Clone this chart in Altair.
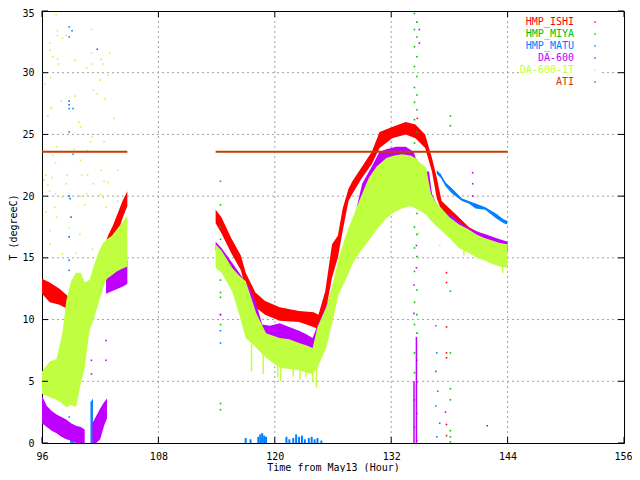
import altair as alt
import pandas as pd

NAMES = ["HMP_ISHI", "HMP_MIYA", "HMP_MATU", "DA-600", "DA-600-1T", "ATI"]
COLORS = ["#ff0000", "#00c000", "#0080ff", "#c000ff", "#c0ff40", "#c04000"]
X_TICKS = [96, 108, 120, 132, 144, 156]
Y_TICKS = [0, 5, 10, 15, 20, 25, 30, 35]

# ---------------- HMP_ISHI (red) bands ----------------
ISHI_A_T = [96.0, 96.8, 97.8, 98.8, 99.5, 100.3, 100.6, 101.0, 101.4, 101.9, 102.3, 102.8, 103.3, 103.8, 104.3, 104.8]
ISHI_A_LO = [12.1, 11.4, 11.2, 10.8, 10.2, 9.2, 9.0, 10.0, 10.7, 12.6, 14.0, 15.2, 16.0, 17.0, 18.2, 19.2]
ISHI_A_HI = [13.3, 13.0, 12.5, 11.8, 11.2, 10.2, 9.8, 11.0, 12.1, 14.2, 15.6, 16.8, 17.6, 18.6, 19.6, 20.4]

ISHI_B_T = [113.9, 114.5, 115.5, 116.5, 117.0, 118.0, 119.0, 120.5, 122.5, 124.0, 124.5, 125.2, 125.9, 126.5,
            127.0, 127.6, 128.0, 129.0, 130.0, 130.8, 132.1, 133.5, 134.5, 135.5, 136.2, 136.7, 137.2, 138.7,
            140.0, 142.0, 144.0]
ISHI_B_LO = [17.8, 17.0, 15.4, 14.0, 12.5, 11.0, 10.4, 9.9, 9.8, 9.4, 9.2, 10.5, 13.4, 15.0,
             17.2, 19.6, 20.2, 21.5, 22.6, 23.9, 24.7, 25.0, 24.7, 23.9, 22.0, 19.8, 18.8, 17.8,
             17.0, 16.2, 15.6]
ISHI_B_HI = [18.9, 18.3, 16.6, 15.2, 13.8, 12.2, 11.5, 11.0, 10.7, 10.6, 10.4, 12.3, 16.1, 16.8,
             19.0, 20.6, 21.2, 22.4, 23.6, 25.2, 25.6, 26.0, 25.8, 25.0, 23.1, 21.5, 19.6, 18.5,
             17.5, 16.6, 16.0]
ISHI_DOT_T = [134.7, 137.7, 137.7, 137.7, 137.7, 137.7, 137.7, 137.7, 98.7]
ISHI_DOT_Y = [26.3, 13.8, 13.0, 9.4, 7.3, 6.9, 1.5, 0.6, 10.4]

# ---------------- HMP_MIYA (green) scattered dots ----------------
MIYA_T = [134.4, 134.65, 134.4, 134.65, 134.4, 134.65, 134.4, 134.65, 134.4, 134.65, 134.4, 134.65, 134.4,
          134.65, 134.4, 134.65, 134.4, 134.65, 134.4, 134.65, 134.4, 134.65, 134.4, 134.65, 134.4, 134.65,
          134.4, 134.65, 134.4, 134.65, 134.4, 134.65, 134.4, 134.65, 134.4, 134.65, 134.4, 134.65,
          114.4, 114.4, 114.4, 114.4, 114.4, 114.4, 114.4, 114.4, 114.4, 114.4, 114.4, 114.4,
          138.1, 138.1, 138.1, 138.1, 138.1, 138.1, 138.1, 138.1, 138.1]
MIYA_Y = [34.8, 34.1, 33.5, 32.9, 32.1, 31.3, 30.5, 29.7, 28.8, 28.2, 27.6, 27.0, 26.2,
          25.2, 24.3, 22.9, 22.1, 20.7, 19.7, 18.6, 17.5, 16.9, 15.8, 15.1, 13.9, 12.4,
          11.4, 10.4, 9.6, 8.9, 7.3, 6.7, 5.7, 4.9, 3.5, 2.4, 1.3, 0.2,
          21.2, 19.3, 17.5, 16.5, 15.1, 13.2, 12.2, 11.8, 10.4, 9.6, 3.2, 2.7,
          26.5, 25.7, 12.3, 7.3, 4.4, 3.5, 1.0, 0.5, 0.1]

# ---------------- HMP_MATU (blue) ----------------
MATU_A_T = [101.0, 101.25]
MATU_A_LO = [0.0, 0.0]
MATU_A_HI = [3.3, 3.6]
MATU_B_T = [136.7, 137.1, 137.6, 138.3, 139.3, 140.0, 140.7, 141.7, 142.8, 143.6, 143.95]
MATU_B_LO = [21.8, 21.5, 20.8, 20.2, 19.6, 19.4, 19.0, 18.9, 18.2, 17.8, 17.7]
MATU_B_HI = [22.1, 21.8, 21.1, 20.6, 19.8, 19.6, 19.4, 19.1, 18.6, 18.1, 18.0]
MATU_SPIKE_T = [117.0, 117.5, 118.3, 118.5, 118.7, 118.9, 119.1, 121.2, 121.5, 121.9, 122.2, 122.5,
                122.8, 123.1, 123.5, 123.8, 124.1, 124.4, 124.8, 99.0, 99.2]
MATU_SPIKE_HI = [0.4, 0.3, 0.5, 0.7, 0.8, 0.6, 0.5, 0.5, 0.3, 0.4, 0.7, 0.5,
                 0.6, 0.3, 0.4, 0.5, 0.3, 0.4, 0.2, 1.3, 0.8]
MATU_DOT_T = [98.8, 99.1, 98.8, 98.8, 98.8, 98.8, 99.2, 98.8, 99.2, 98.8, 98.9, 99.0, 98.8, 98.8, 98.8,
              98.8, 98.8, 114.4, 114.4, 136.6, 136.7, 136.6, 136.8, 136.6, 137.0, 136.7]
MATU_DOT_Y = [33.7, 33.4, 32.9, 27.7, 27.4, 27.1, 27.1, 25.2, 23.4, 20.0, 19.8, 18.3, 16.7, 14.8, 14.0,
              11.5, 2.1, 9.1, 8.1, 9.5, 7.3, 5.8, 4.2, 3.0, 1.6, 0.5]

# ---------------- DA-600 (purple) ----------------
DA_A1_T = [96.0, 96.5, 97.0, 97.5, 98.0, 98.5, 99.0, 99.5, 100.0, 100.4]
DA_A1_LO = [1.6, 1.3, 1.0, 0.8, 0.5, 0.3, 0.2, 0.0, 0.0, 0.0]
DA_A1_HI = [3.8, 3.0, 2.6, 2.3, 2.1, 1.9, 1.6, 1.4, 1.3, 1.1]
DA_A2_T = [101.2, 101.6, 102.0, 102.4, 102.7]
DA_A2_LO = [0.0, 0.0, 0.3, 1.4, 2.0]
DA_A2_HI = [1.6, 2.2, 2.8, 3.3, 3.6]
DA_A3_T = [102.6, 103.2, 103.8, 104.4, 104.8]
DA_A3_LO = [12.1, 12.3, 12.5, 12.7, 12.9]
DA_A3_HI = [14.0, 14.2, 14.4, 14.6, 14.8]
DA_B_T = [113.9, 114.5, 115.6, 116.5, 117.4, 118.0, 118.7, 119.5, 120.5, 121.5, 122.5, 123.3, 123.9,
          124.6, 125.3, 125.9, 126.9, 128.2, 129.0, 130.0, 130.8, 131.5, 132.5, 133.5, 134.3, 134.9,
          135.5, 135.9, 136.2, 136.9, 137.5, 138.3, 139.2, 140.0, 141.0, 141.8, 142.8, 143.6, 144.0]
DA_B_LO = [15.6, 15.0, 13.9, 12.8, 11.6, 10.2, 8.5, 8.3, 8.3, 8.0, 7.7, 7.4, 7.3,
           8.3, 9.6, 11.0, 13.7, 17.2, 19.6, 21.0, 21.5, 22.2, 22.6, 22.7, 22.3, 21.2,
           20.6, 20.8, 19.6, 18.5, 18.0, 17.4, 17.0, 16.8, 16.5, 16.2, 15.9, 15.6, 15.5]
DA_B_HI = [16.3, 15.8, 14.6, 13.6, 12.6, 11.5, 9.6, 9.5, 9.7, 9.4, 9.1, 8.8, 8.5,
           9.9, 11.2, 12.3, 15.3, 18.2, 21.0, 22.4, 23.6, 23.8, 24.0, 24.0, 23.6, 22.3,
           22.0, 22.0, 20.2, 19.0, 18.7, 18.4, 17.8, 17.4, 17.1, 16.9, 16.6, 16.4, 16.3]
DA_SPIKE_T = [134.35, 134.6]
DA_SPIKE_HI = [5.0, 8.6]
DA_DOT_T = [101.7, 101.1, 101.1, 102.6, 102.6, 134.35, 134.35, 134.6, 134.6, 134.9, 134.9, 140.4, 140.4,
            140.4, 137.6, 114.4, 141.9]
DA_DOT_Y = [31.9, 6.7, 5.6, 8.3, 6.7, 10.5, 12.8, 14.2, 16.0, 33.5, 32.4, 21.9, 21.0, 20.0, 2.5, 10.4, 1.4]

# ---------------- DA-600-1T (yellow-green) ----------------
T1_A_T = [96.0, 96.8, 97.5, 98.1, 98.5, 99.0, 99.5, 100.0, 100.4, 100.9, 101.4, 101.9, 102.3, 102.7,
          103.2, 103.7, 104.2, 104.8]
T1_A_LO = [4.0, 3.7, 3.5, 3.2, 2.9, 3.1, 2.9, 4.8, 6.1, 9.1, 10.2, 11.5, 12.6, 13.3, 13.6, 13.9, 14.1, 14.3]
T1_A_HI = [5.8, 6.6, 6.8, 8.9, 11.5, 13.1, 13.8, 13.8, 13.0, 13.2, 14.5, 15.6, 16.2, 16.5, 16.8, 17.3,
           17.8, 18.4]
T1_B_T = [113.9, 114.5, 115.6, 116.3, 117.0, 118.1, 119.1, 120.5, 121.5, 122.5, 123.3, 123.9, 124.4,
          125.3, 126.0, 126.6, 127.3, 128.0, 128.8, 129.7, 130.5, 131.5, 132.3, 133.1, 134.0, 134.5,
          135.0, 135.6, 136.1, 136.6, 137.2, 138.0, 139.0, 140.0, 140.8, 141.6, 142.4, 143.2, 144.0]
T1_B_LO = [14.2, 13.8, 12.3, 10.5, 8.5, 7.7, 6.9, 6.1, 6.0, 5.9, 5.7, 5.6, 6.1,
           7.7, 10.0, 12.1, 13.2, 14.5, 15.5, 16.4, 17.3, 18.2, 18.7, 19.0, 19.2, 19.0,
           18.8, 18.5, 18.0, 17.6, 17.2, 16.6, 15.8, 15.4, 15.0, 14.8, 14.5, 14.3, 14.2]
T1_B_HI = [16.1, 15.6, 14.2, 13.6, 13.1, 10.5, 8.9, 8.5, 8.4, 8.1, 7.9, 7.7, 9.4,
           11.0, 13.0, 15.0, 16.8, 18.2, 19.8, 21.5, 22.4, 23.1, 23.3, 23.4, 23.3, 23.1,
           22.7, 22.3, 20.2, 19.5, 19.0, 18.3, 17.7, 17.3, 16.9, 16.6, 16.4, 16.2, 16.1]
T1_SPIKE_T = [117.6, 118.8, 120.3, 120.6, 121.9, 122.6, 123.2, 123.9, 124.3, 143.5, 139.5]
T1_SPIKE_LO = [5.8, 5.6, 5.3, 5.0, 5.4, 5.1, 5.3, 5.0, 4.5, 13.8, 15.2]
T1_SPIKE_HI = [8.0, 7.5, 7.0, 7.0, 7.0, 7.0, 7.0, 7.0, 7.0, 15.0, 16.5]
T1_DOT_T = [97.46, 97.6, 97.6, 98.1, 98.5, 96.8, 96.8, 97.1, 97.6, 97.7, 101.1, 101.1, 101.1, 100.6,
            102.1, 102.3, 103.0, 102.0, 102.8, 96.3, 96.9, 99.4, 101.3, 101.7, 102.5, 103.4, 99.4, 98.0,
            96.9, 97.0, 96.6, 99.8, 100.0, 101.2, 101.0, 102.4, 97.5, 99.3, 100.7, 97.1, 97.4, 99.97,
            103.8, 96.4, 97.0, 98.6, 100.1, 100.7, 102.1, 102.4, 102.8, 96.2, 96.6, 98.5, 101.3, 96.8,
            97.4, 98.1, 99.9, 100.6, 102.0, 102.3, 96.4, 97.5, 96.8, 97.3, 98.8, 99.9, 100.4, 101.2,
            96.8, 98.1, 99.5, 102.6, 103.8, 134.8, 137.0]
T1_DOT_Y = [34.7, 33.4, 33.0, 32.8, 33.0, 32.4, 31.8, 31.3, 31.1, 30.7, 33.5, 31.6, 30.7, 30.4,
            31.1, 30.7, 31.6, 29.4, 29.8, 29.1, 29.6, 31.0, 28.6, 28.3, 27.9, 26.3, 28.1, 27.7,
            27.2, 27.1, 26.5, 26.0, 25.6, 24.8, 24.4, 24.4, 24.0, 23.8, 23.7, 23.3, 22.7, 22.9,
            22.1, 21.7, 21.5, 21.7, 21.7, 21.7, 22.1, 21.2, 21.1, 21.3, 20.9, 21.0, 21.0, 20.4,
            20.2, 19.9, 20.0, 20.2, 20.1, 19.9, 18.7, 18.3, 17.2, 19.1, 17.4, 16.9, 19.3, 15.7,
            16.1, 15.3, 15.4, 19.1, 19.6, 17.0, 16.0]

# ---------------- ATI (brown) ----------------
ATI_T = [96.0, 104.8, 113.9, 144.0]
ATI_Y = [23.6, 23.6, 23.6, 23.6]
ATI_SEG = ["a", "a", "b", "b"]

MONO = "DejaVu Sans Mono"
W, H = 582, 432


def band_df(series, parts):
    rows = []
    for seg, (ts, los, his) in enumerate(parts):
        for t, lo, hi in zip(ts, los, his):
            rows.append({"series": series, "seg": seg, "t": t, "lo": lo, "hi": hi})
    return pd.DataFrame(rows)


xaxis = alt.Axis(values=X_TICKS, title="Time from May13 (Hour)", grid=False, ticks=False, domain=False,
                 labelPadding=8, titlePadding=1, labelOverlap=False, labelBound=False, labelFlush=False,
                 labelOffset={"condition": {"test": "datum.value == 156", "value": -1}, "value": 0})
yaxis = alt.Axis(values=Y_TICKS, title="T (degreeC)", grid=False, ticks=False, domain=False,
                 labelPadding=8, titlePadding=3, labelOverlap=False,
                 labelOffset={"condition": {"test": "datum.value == 35", "value": 2}, "value": 0})
xs = alt.Scale(domain=[96, 156], nice=False, zero=False)
ys = alt.Scale(domain=[0, 35], nice=False, zero=False)
cs = alt.Scale(domain=NAMES, range=COLORS)


def X(f):
    return alt.X(f"{f}:Q", scale=xs, axis=xaxis)


def Y(f):
    return alt.Y(f"{f}:Q", scale=ys, axis=yaxis)


def C():
    return alt.Color("series:N", scale=cs, legend=None)


def area(series, parts):
    return alt.Chart(band_df(series, parts)).mark_area(interpolate="linear", opacity=1).encode(
        x=X("t"), y=Y("lo"), y2="hi", detail="seg:N", color=C())


def spikes(series, ts, los, his, w=1.5):
    df = pd.DataFrame({"series": series, "t": ts, "lo": los, "hi": his})
    return alt.Chart(df).mark_rule(strokeWidth=w).encode(x=X("t"), y=Y("lo"), y2="hi", color=C())


def dots(series, ts, ys_):
    df = pd.DataFrame({"series": series, "t": ts, "v": ys_})
    return alt.Chart(df).mark_square(size=2.5, opacity=1).encode(x=X("t"), y=Y("v"), color=C())


# grid
xgrid = alt.Chart(pd.DataFrame({"t": X_TICKS[1:-1]})).mark_rule(
    color="#a0a0a0", strokeDash=[2, 3], strokeWidth=1).encode(x=X("t"))
ygrid = alt.Chart(pd.DataFrame({"v": Y_TICKS[1:-1]})).mark_rule(
    color="#a0a0a0", strokeDash=[2, 3], strokeWidth=1).encode(y=Y("v"))

# legend (key) background + entries
legend_bg = alt.Chart(pd.DataFrame({"series": ["bg"]})).mark_rect(color="white").encode(
    x=alt.value(477), x2=alt.value(557), y=alt.value(4), y2=alt.value(78))
leg_df = pd.DataFrame({"series": NAMES, "i": list(range(len(NAMES)))})
legend_text = alt.Chart(leg_df).transform_calculate(py="11 + 12 * datum.i").mark_text(
    align="right", baseline="middle", font=MONO, fontSize=10).encode(
    x=alt.value(532), y=alt.Y("py:Q", scale=None), text="series:N", color=C())
legend_dot = alt.Chart(leg_df).transform_calculate(py="11 + 12 * datum.i").mark_square(
    size=2, opacity=1).encode(x=alt.value(553), y=alt.Y("py:Q", scale=None), color=C())

# inward ticks (gnuplot style, mirrored)
xt = pd.DataFrame({"t": X_TICKS})
yt = pd.DataFrame({"v": Y_TICKS})
tick_b = alt.Chart(xt).mark_rule(color="black").encode(x=X("t"), y=alt.value(H), y2=alt.value(H - 6))
tick_t = alt.Chart(xt).mark_rule(color="black").encode(x=X("t"), y=alt.value(0), y2=alt.value(6))
tick_l = alt.Chart(yt).mark_rule(color="black").encode(y=Y("v"), x=alt.value(0), x2=alt.value(6))
tick_r = alt.Chart(yt).mark_rule(color="black").encode(y=Y("v"), x=alt.value(W), x2=alt.value(W - 6))

layers = [
    xgrid, ygrid, legend_bg,
    # HMP_ISHI
    area("HMP_ISHI", [(ISHI_A_T, ISHI_A_LO, ISHI_A_HI), (ISHI_B_T, ISHI_B_LO, ISHI_B_HI)]),
    dots("HMP_ISHI", ISHI_DOT_T, ISHI_DOT_Y),
    # HMP_MIYA
    dots("HMP_MIYA", MIYA_T, MIYA_Y),
    # HMP_MATU
    area("HMP_MATU", [(MATU_A_T, MATU_A_LO, MATU_A_HI), (MATU_B_T, MATU_B_LO, MATU_B_HI)]),
    spikes("HMP_MATU", MATU_SPIKE_T, [0.0] * len(MATU_SPIKE_T), MATU_SPIKE_HI, w=2),
    dots("HMP_MATU", MATU_DOT_T, MATU_DOT_Y),
    # DA-600
    area("DA-600", [(DA_A1_T, DA_A1_LO, DA_A1_HI), (DA_A2_T, DA_A2_LO, DA_A2_HI),
                    (DA_A3_T, DA_A3_LO, DA_A3_HI), (DA_B_T, DA_B_LO, DA_B_HI)]),
    spikes("DA-600", DA_SPIKE_T, [0.0] * len(DA_SPIKE_T), DA_SPIKE_HI),
    dots("DA-600", DA_DOT_T, DA_DOT_Y),
    # DA-600-1T
    area("DA-600-1T", [(T1_A_T, T1_A_LO, T1_A_HI), (T1_B_T, T1_B_LO, T1_B_HI)]),
    spikes("DA-600-1T", T1_SPIKE_T, T1_SPIKE_LO, T1_SPIKE_HI),
    dots("DA-600-1T", T1_DOT_T, T1_DOT_Y),
    # ATI
    alt.Chart(pd.DataFrame({"series": "ATI", "t": ATI_T, "v": ATI_Y, "seg": ATI_SEG})).mark_line(
        strokeWidth=2).encode(x=X("t"), y=Y("v"), detail="seg:N", color=C()),
    legend_text, legend_dot,
    tick_b, tick_t, tick_l, tick_r,
]

chart = alt.layer(*layers).properties(
    width=W, height=H,
    autosize=alt.AutoSizeParams(type="none"),
    padding={"left": 34, "top": 3, "right": 8, "bottom": 29},
    background="white",
).configure_view(stroke="black", strokeWidth=1).configure_axis(
    labelFont=MONO, labelFontSize=10, labelColor="black",
    titleFont=MONO, titleFontSize=10, titleFontWeight="normal", titleColor="black",
)

chart.save("out.html", embed_options={"renderer": "svg", "actions": False})
